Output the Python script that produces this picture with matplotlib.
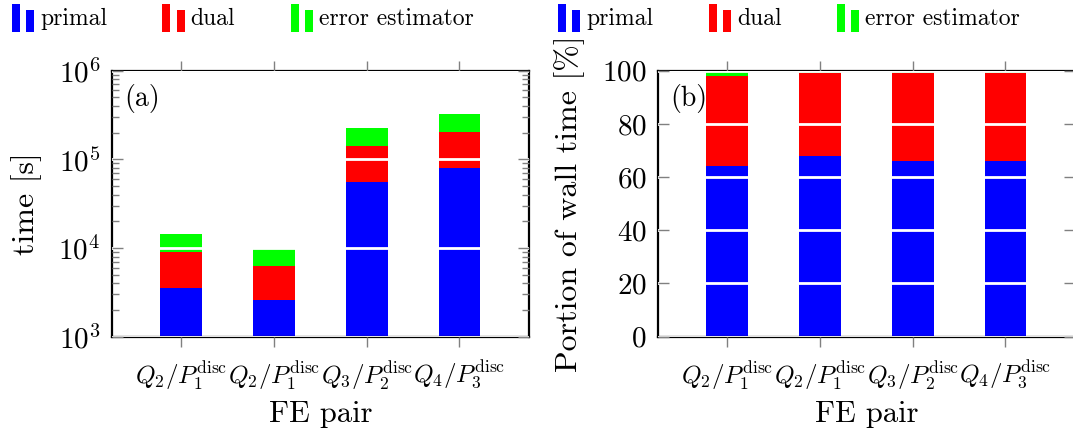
import numpy as np
import matplotlib
matplotlib.use("Agg")
import matplotlib.pyplot as plt
from matplotlib.legend_handler import HandlerBase
from matplotlib.patches import Rectangle

plt.rcParams['font.family'] = 'serif'
plt.rcParams['font.serif'] = ['cmr10', 'DejaVu Serif']
plt.rcParams['mathtext.fontset'] = 'cm'
plt.rcParams['axes.formatter.use_mathtext'] = True

fe_pairs = [r'$Q_2/P_1^{\rm disc}$', r'$Q_2/P_1^{\rm disc}$',
            r'$Q_3/P_2^{\rm disc}$', r'$Q_4/P_3^{\rm disc}$']

# absolute wall time [s] (stacked)
time_primal = [3525, 2585, 56150, 79800]
time_dual = [5425, 3745, 84850, 121200]
time_error = [5530, 3340, 86000, 122000]

# portion of wall time [%]
pct_primal = [64, 68, 66, 66]
pct_dual = [34, 31.3, 33.3, 33.3]
pct_error = [2, 0.7, 0.7, 0.7]

series = ["primal", "dual", "error estimator"]
colors = ["#0000ff", "#ff0000", "#00ff00"]


class TwoBars(HandlerBase):
    def create_artists(self, legend, orig_handle, xdescent, ydescent,
                       width, height, fontsize, trans):
        c = orig_handle.get_facecolor()
        w = width * 0.36
        h = height * 1.55
        y0 = -ydescent - 0.3 * height
        r1 = Rectangle((-xdescent, y0), w, h,
                       facecolor=c, edgecolor='none', transform=trans)
        r2 = Rectangle((-xdescent + width - w, y0), w,
                       h * 0.76, facecolor=c, edgecolor='none',
                       transform=trans)
        return [r1, r2]


def style_axes(ax):
    ax.set_axisbelow(False)
    ax.grid(axis='y', which='major', color='white', linewidth=2)
    ax.tick_params(axis='y', which='both', direction='in', left=True,
                   right=True, color='#808080', labelsize=21, pad=8)
    ax.tick_params(axis='y', which='major', length=8, width=1)
    ax.tick_params(axis='y', which='minor', length=5, width=1)
    ax.tick_params(axis='x', direction='out', top=True, bottom=True,
                   color='#808080', length=7, width=1, labelsize=18, pad=9)
    for s in ax.spines.values():
        s.set_linewidth(1.6)
    ax.set_xlim(0.25, 4.75)
    ax.set_xticks(x)
    ax.set_xticklabels(fe_pairs)
    ax.set_xlabel("FE pair", fontsize=22, labelpad=6)


fig = plt.figure(figsize=(10.73, 4.34), dpi=100)
ax1 = fig.add_axes([0.1041, 0.2242, 0.3889, 0.6129])
ax2 = fig.add_axes([0.613, 0.2242, 0.3889, 0.6129])

x = np.arange(1, 5)
width = 0.45

bottom = np.zeros(4)
for vals, col, name in zip([time_primal, time_dual, time_error], colors, series):
    ax1.bar(x, vals, width, bottom=bottom if bottom.any() else 1e-9,
            color=col, edgecolor='none', label=name)
    bottom = bottom + np.array(vals)
ax1.set_yscale('log')
ax1.set_ylim(1e3, 1e6)
ax1.set_ylabel("time [s]", fontsize=23, labelpad=12)
style_axes(ax1)
ax1.text(0.03, 0.95, "(a)", transform=ax1.transAxes, fontsize=20,
         va='top', ha='left')

bottom = np.zeros(4)
for vals, col, name in zip([pct_primal, pct_dual, pct_error], colors, series):
    ax2.bar(x, vals, width, bottom=bottom, color=col, edgecolor='none',
            label=name)
    bottom = bottom + np.array(vals)
ax2.set_ylim(0, 100)
ax2.set_yticks([0, 20, 40, 60, 80, 100])
ax2.set_ylabel("Portion of wall time [%]", fontsize=23, labelpad=12)
style_axes(ax2)
ax2.text(0.03, 0.95, "(b)", transform=ax2.transAxes, fontsize=20,
         va='top', ha='left')

proxies = [Rectangle((0, 0), 1, 1, facecolor=c) for c in colors]
for x0 in [-0.009, 0.5]:
    fig.legend(proxies, series, loc='upper left', bbox_to_anchor=(x0, 1.03),
               ncol=3, frameon=False, fontsize=17,
               handler_map={Rectangle: TwoBars()},
               handlelength=0.95, handleheight=0.8, handletextpad=0.25,
               columnspacing=2.35)

fig.savefig("out.png", dpi=100)
